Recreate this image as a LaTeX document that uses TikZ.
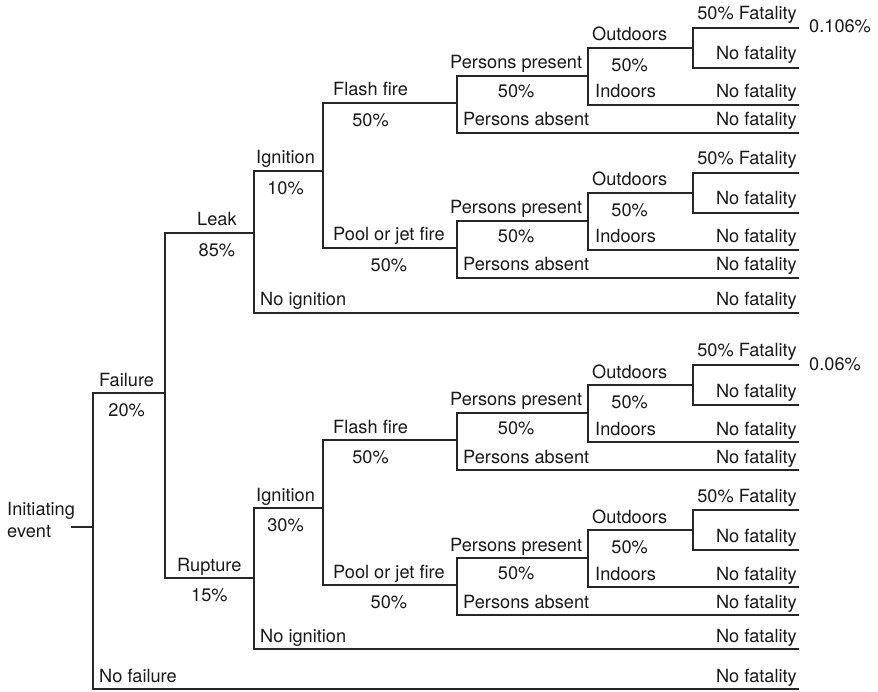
\documentclass[tikz,border=0pt]{standalone}
\usepackage{fontspec}
\setmainfont{TeX Gyre Heros}
\usetikzlibrary{positioning}
\begin{document}
\begin{tikzpicture}[x=1pt, y=-1pt,
  branch/.style={line width=1.2pt, black!85},
  lbl/.style={anchor=base west, inner sep=0, text=black!90, font=\fontsize{18.2}{22}\selectfont, text height=13pt, text depth=4pt},
  pct/.style={inner sep=0, text=black!90, font=\fontsize{18.2}{22}\selectfont, text height=13pt, text depth=4pt},
  outcome/.style={lbl, anchor=base east}]
\useasboundingbox (0,0) rectangle (878,692);
\node[anchor=west, align=left, inner sep=0, text=black!90, font=\fontsize{18.2}{22}\selectfont] (ie) at (7,520) {Initiating\\event};
\coordinate (start) at (71,527);
\coordinate (root) at (93,527);
\coordinate (fail) at (93,393);
\coordinate (failj) at (165,393);
\coordinate (nofail) at (93,689);
\coordinate (nofailend) at (799,689);
\coordinate (leakj) at (165,233);
\coordinate (leakend) at (254,233);
\coordinate (rupj) at (165,578);
\coordinate (rupend) at (254,578);
\coordinate (ign1) at (254,171);
\coordinate (ignend1) at (323,171);
\coordinate (noign1) at (254,313);
\coordinate (noignend1) at (799,313);
\coordinate (ign2) at (254,508);
\coordinate (ignend2) at (323,508);
\coordinate (noign2) at (254,649);
\coordinate (noignend2) at (799,649);
\draw[branch] (start) -- (root);
\draw[branch] (failj) -- (fail) -- (nofail) -- (nofailend);
\draw[branch] (leakend) -- (leakj) -- (rupj) -- (rupend);
\draw[branch] (ignend1) -- (ign1) -- (noign1) -- (noignend1);
\draw[branch] (ignend2) -- (ign2) -- (noign2) -- (noignend2);
\node[lbl] (failure) at (99,386) {Failure};
\node[pct, below=13pt of failure] (failurep) {20\%};
\node[lbl] (nofailure) at (99,682) {No failure};
\node[outcome] (nofailureout) at (797,682) {No fatality};
\node[lbl] (leak) at (197,226) {Leak};
\node[pct, below=13pt of leak] (leakp) {85\%};
\node[lbl] (rupture) at (177,571) {Rupture};
\node[pct, below=13pt of rupture] (rupturep) {15\%};
\node[lbl] (ignition1) at (256,164) {Ignition};
\node[pct, below=13pt of ignition1] (ignition1p) {10\%};
\node[lbl] (noignition1) at (260,306) {No ignition};
\node[outcome] (noignition1out) at (797,306) {No fatality};
\node[lbl] (ignition2) at (256,501) {Ignition};
\node[pct, below=13pt of ignition2] (ignition2p) {30\%};
\node[lbl] (noignition2) at (260,642) {No ignition};
\node[outcome] (noignition2out) at (797,642) {No fatality};
\foreach \i/\f/\fire in {1/103/Flash fire, 2/248/Pool or jet fire, 3/440/Flash fire, 4/585/Pool or jet fire} {
  \coordinate (fire\i) at (323,\f);
  \coordinate (split\i) at (457,\f);
  \coordinate (pres\i) at (457,{\f-27});
  \coordinate (abs\i) at (457,{\f+30});
  \coordinate (absend\i) at (799,{\f+30});
  \coordinate (pexp\i) at (588,{\f-27});
  \coordinate (out\i) at (588,{\f-55});
  \coordinate (in\i) at (588,{\f+2});
  \coordinate (inend\i) at (799,{\f+2});
  \coordinate (outj\i) at (693,{\f-55});
  \coordinate (fat\i) at (693,{\f-75});
  \coordinate (fatend\i) at (799,{\f-75});
  \coordinate (nofat\i) at (693,{\f-35});
  \coordinate (nofatend\i) at (799,{\f-35});
  \draw[branch] (pexp\i) -- (pres\i) -- (abs\i) -- (absend\i);
  \draw[branch] (outj\i) -- (out\i) -- (in\i) -- (inend\i);
  \draw[branch] (fatend\i) -- (fat\i) -- (nofat\i) -- (nofatend\i);
  \node[lbl] (firel\i) at (333,{\f-7}) {\fire};
  \node[pct, below=13pt of firel\i] (firep\i) {50\%};
  \node[lbl] (presl\i) at (450,{\f-34}) {Persons present};
  \node[pct, below=11pt of presl\i] (presp\i) {50\%};
  \node[lbl] (absl\i) at (463,{\f+23}) {Persons absent};
  \node[outcome] (absout\i) at (797,{\f+23}) {No fatality};
  \node[lbl] (outl\i) at (592,{\f-62}) {Outdoors};
  \node[pct, below=13pt of outl\i] (outp\i) {50\%};
  \node[lbl] (inl\i) at (595,{\f-5}) {Indoors};
  \node[outcome] (inout\i) at (797,{\f-5}) {No fatality};
  \node[outcome] (fatl\i) at (797,{\f-83}) {50\% Fatality};
  \node[outcome] (nofatl\i) at (797,{\f-43}) {No fatality};
}
\draw[branch] (split1) -- (fire1) -- (fire2) -- (split2);
\draw[branch] (split3) -- (fire3) -- (fire4) -- (split4);
\node[lbl] (risk1) at (809,33) {0.106\%};
\node[lbl] (risk3) at (809,371) {0.06\%};
\end{tikzpicture}
\end{document}
